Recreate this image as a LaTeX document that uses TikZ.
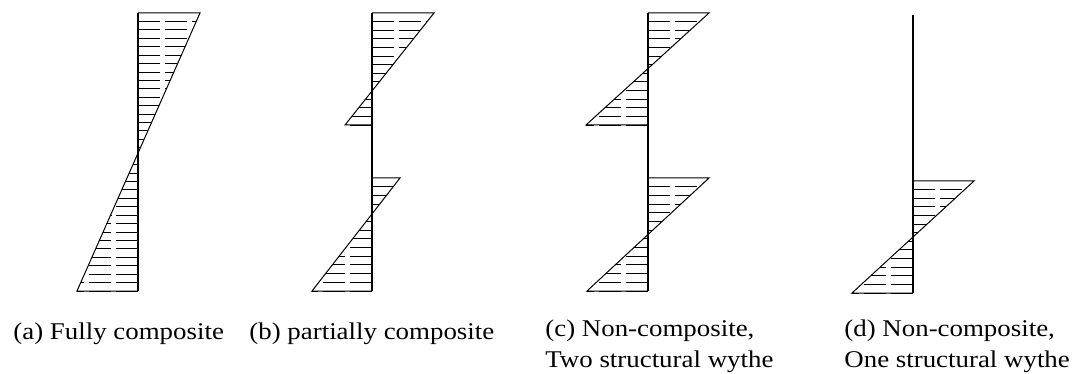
\documentclass[tikz,border=0pt]{standalone}
\usepackage{fontspec}
\setmainfont{Liberation Serif}[FakeStretch=1.12]
\usetikzlibrary{calc,positioning}

% caption font
\newcommand{\capfont}{\fontsize{12}{15.5}\selectfont}

% one stress block: diagonal from (#2) to (#3) against the vertical (#1), #4 hatch lines
\newcommand{\stressblock}[4]{%
    \draw[edge] (#2 -| #1) -- (#2) -- (#3) -- (#3 -| #1);
    \foreach \k in {1,...,#4} {
        \coordinate (h) at ($(#2)!{\k/#4}!(#3)$);
        \draw[hatch] (h -| #1) -- (h);
    }%
}

\begin{document}
\begin{tikzpicture}[
        x=0.5pt, y=-0.5pt,
        % line styles
        edge/.style={line width=0.5pt, draw=black},
        wall/.style={line width=0.6pt, draw=black},
        hatch/.style={line width=0.45pt, draw=black, dash pattern=on 11pt off 2.5pt},
        % caption style
        caption/.style={anchor=base west, inner sep=0pt, align=left, font=\capfont}
    ]
    \useasboundingbox (0,0) rectangle (1077,374);

    % (a) fully composite
    \coordinate (wa) at (138,13);
    \coordinate (a1) at (200,13);
    \coordinate (a2) at (77,291);
    \stressblock{wa}{a1}{a2}{33}
    \draw[wall] (138,13) -- (138,291);

    % (b) partially composite
    \coordinate (wb) at (372,13);
    \coordinate (b1) at (434,13);
    \coordinate (b2) at (345,125);
    \coordinate (b3) at (400,178);
    \coordinate (b4) at (312,291);
    \stressblock{wb}{b1}{b2}{13}
    \stressblock{wb}{b3}{b4}{13}
    \draw[wall] (372,13) -- (372,291);

    % (c) non-composite, two structural wythes
    \coordinate (wc) at (648,13);
    \coordinate (c1) at (709,13);
    \coordinate (c2) at (586,125);
    \coordinate (c3) at (709,178);
    \coordinate (c4) at (587,291);
    \stressblock{wc}{c1}{c2}{13}
    \stressblock{wc}{c3}{c4}{13}
    \draw[wall] (648,13) -- (648,291);

    % (d) non-composite, one structural wythe
    \coordinate (wd) at (913,15);
    \coordinate (d1) at (974,181);
    \coordinate (d2) at (852,293);
    \stressblock{wd}{d1}{d2}{13}
    \draw[wall] (913,15) -- (913,293);

    % captions
    \node[caption] (capa) at (13,339) {(a) Fully composite};
    \node[caption] (capb) at (249,339) {(b) partially composite};
    \node[caption] (capc) at (545,367) {(c) Non-composite,\\Two structural wythe};
    \node[caption] (capd) at (844,367) {(d) Non-composite,\\One structural wythe};

\end{tikzpicture}
\end{document}
